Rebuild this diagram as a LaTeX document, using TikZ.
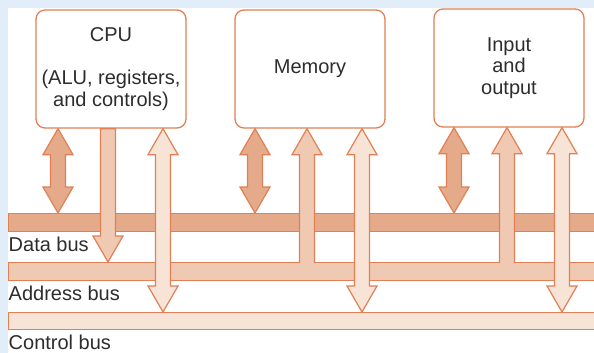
\documentclass[tikz,border=0pt]{standalone}
\usepackage{fontspec}
\setmainfont{Liberation Sans}
\usetikzlibrary{positioning,calc}

\definecolor{bgblue}{RGB}{225,237,248}
\definecolor{edgeorange}{RGB}{224,128,84}
\definecolor{darkfill}{RGB}{228,170,138}
\definecolor{midfill}{RGB}{240,201,178}
\definecolor{lightfill}{RGB}{248,228,214}
\definecolor{textgray}{RGB}{45,45,45}

% two-headed block arrow: fill, box, xshift, bus
\newcommand\twoway[4]{%
  \draw[blockarrow, fill=#1] let \p1=([xshift=#3]#2.south), \p2=(#4.north) in
    (\x1,\y1) -- (\x1+15pt,\y1-26pt) -- (\x1+7.5pt,\y1-26pt) -- (\x1+7.5pt,\y2+26pt)
    -- (\x1+15pt,\y2+26pt) -- (\x1,\y2) -- (\x1-15pt,\y2+26pt) -- (\x1-7.5pt,\y2+26pt)
    -- (\x1-7.5pt,\y1-26pt) -- (\x1-15pt,\y1-26pt) -- cycle;}
% box to bus
\newcommand\downway[4]{%
  \draw[blockarrow, fill=#1] let \p1=([xshift=#3]#2.south), \p2=(#4.north) in
    (\x1-7.5pt,\y1) -- (\x1+7.5pt,\y1) -- (\x1+7.5pt,\y2+26pt) -- (\x1+15pt,\y2+26pt)
    -- (\x1,\y2) -- (\x1-15pt,\y2+26pt) -- (\x1-7.5pt,\y2+26pt) -- cycle;}
% bus to box, tail runs into the bus
\newcommand\upway[4]{%
  \draw[blockarrow, fill=#1] let \p1=([xshift=#3]#2.south), \p2=(#4.north) in
    (\x1-7.5pt,\y2-1.2pt) -- (\x1-7.5pt,\y1-26pt) -- (\x1-15pt,\y1-26pt) -- (\x1,\y1)
    -- (\x1+15pt,\y1-26pt) -- (\x1+7.5pt,\y1-26pt) -- (\x1+7.5pt,\y2-1.2pt);}

\begin{document}
\begin{tikzpicture}[
    x=1pt, y=-1pt,
    line join=miter,
    font=\fontsize{20}{21.5}\selectfont, text=textgray,
    unit/.style={draw=edgeorange, line width=1.3pt, fill=white, rounded corners=9pt,
      minimum width=150pt, minimum height=118pt, align=center, inner sep=0pt},
    bus/.style={draw=edgeorange, line width=1.2pt, minimum width=600pt,
      minimum height=18pt, anchor=north west, inner sep=0pt},
    buslabel/.style={inner sep=0pt},
    blockarrow/.style={draw=edgeorange, line width=1.2pt}
    ]

    \useasboundingbox (0,0) rectangle (594,353);
    \fill[bgblue] (0,0) rectangle (594,353);
    \fill[white] (8,8) rectangle (594,353);

    \node[bus, fill=darkfill] (data) at (8,213) {};
    \node[bus, fill=midfill] (address) at (8,262) {};
    \node[bus, fill=lightfill, minimum height=17pt] (control) at (8,312) {};

    \node[buslabel, below right=4.5pt and 0.5pt of data.south west] (datalbl) {Data bus};
    \node[buslabel, below right=4.5pt and 0.5pt of address.south west] (addresslbl) {Address bus};
    \node[buslabel, below right=4.5pt and 0.5pt of control.south west] (controllbl) {Control bus};

    \node[unit] (cpu) at (111,69) {CPU\\[21.5pt](ALU, registers,\\and controls)};
    \node[unit] (memory) at (310,69) {Memory};
    \node[unit] (io) at (509,68) {Input\\and\\output};

    \twoway{darkfill}{cpu}{-53pt}{data}
    \downway{midfill}{cpu}{-3pt}{address}
    \twoway{lightfill}{cpu}{52pt}{control}

    \twoway{darkfill}{memory}{-55pt}{data}
    \upway{midfill}{memory}{-3pt}{address}
    \twoway{lightfill}{memory}{52pt}{control}

    \twoway{darkfill}{io}{-55pt}{data}
    \upway{midfill}{io}{-2pt}{address}
    \twoway{lightfill}{io}{53pt}{control}
\end{tikzpicture}
\end{document}
